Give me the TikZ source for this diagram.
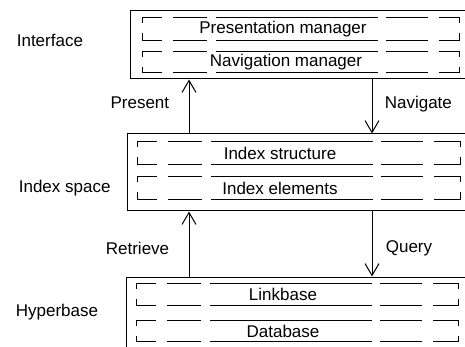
\documentclass[tikz,border=0pt]{standalone}
\usepackage{fontspec}
\setmainfont{Liberation Sans}
\usetikzlibrary{arrows.meta}
\tikzset{layer/.style={draw, line width=1pt, inner sep=0pt},
	part/.style={inner sep=0pt, minimum width=322pt, minimum height=22pt},
	hside/.style={line width=1pt, line cap=rect,
		dash pattern=on 19pt off 12pt on 33pt off 10pt on 161pt off 9pt on 41pt off 12pt on 30pt},
	vside/.style={line width=1pt, line cap=rect, dash pattern=on 5pt off 11pt on 10pt}}

\begin{document}
\begin{tikzpicture}[
		> = {Straight Barb[length=12pt, width=14pt]}, % arrow head style
		x = 1pt, y = -1pt, % one unit per pixel, y going down
		line width = 1pt, % line style
		every node/.style={font=\fontsize{17}{20}\selectfont},
	]
	\clip (0,0) rectangle (465,347);
	% the three layers
	\node[layer, minimum width=342pt, minimum height=68pt] (iface) at (301,45){};
	\node[layer, minimum width=345pt, minimum height=77pt] (idx) at (299.5,172.5){};
	\node[layer, minimum width=346pt, minimum height=75pt] (hyper) at (299,314.5){};
	% dashed parts inside the layers
	\node[part, minimum width=316pt] (pres) at (301,29){};
	\node[part, minimum width=316pt, minimum height=20pt] (nav) at (301,62){};
	\node[part] (struct) at (299,153){};
	\node[part] (elem) at (299,188){};
	\node[part, minimum width=321pt, minimum height=21pt] (link) at (297.5,294.5){};
	\node[part, minimum width=321pt, minimum height=20pt] (data) at (297.5,331){};
	\foreach \b in {pres, nav, struct, elem, link, data}{
		\draw[hside] (\b.north west) -- (\b.north east);
		\draw[hside] (\b.south west) -- (\b.south east);
		\draw[vside] (\b.north west) -- (\b.south west);
		\draw[vside] (\b.north east) -- (\b.south east);
	}
	\node (presText) at (283,29){Presentation manager};
	\node (navText) at (286,62){Navigation manager};
	\node (structText) at (280,153){Index structure};
	\node (elemText) at (280,188){Index elements};
	\node (linkText) at (283,294.5){Linkbase};
	\node (dataText) at (283,331){Database};
	% layer names
	\node[anchor=west] (ifaceName) at (13,40){Interface};
	\node[anchor=west] (idxName) at (15,188){Index space};
	\node[anchor=west] (hyperName) at (12,312){Hyperbase};
	% connectors
	\coordinate (up) at (189,0);
	\coordinate (down) at (372,0);
	\draw[->] (up |- idx.north) to (up |- iface.south);
	\draw[->] (down |- iface.south) to (down |- idx.north);
	\draw[->] (up |- hyper.north) to (up |- idx.south);
	\draw[->] (down |- idx.south) to (down |- hyper.north);
	\node[anchor=east] (present) at (173,103){Present};
	\node[anchor=west] (navigate) at (381,104){Navigate};
	\node[anchor=east] (retrieve) at (173,248){Retrieve};
	\node[anchor=west] (query) at (382,248){Query};
\end{tikzpicture}
\end{document}
